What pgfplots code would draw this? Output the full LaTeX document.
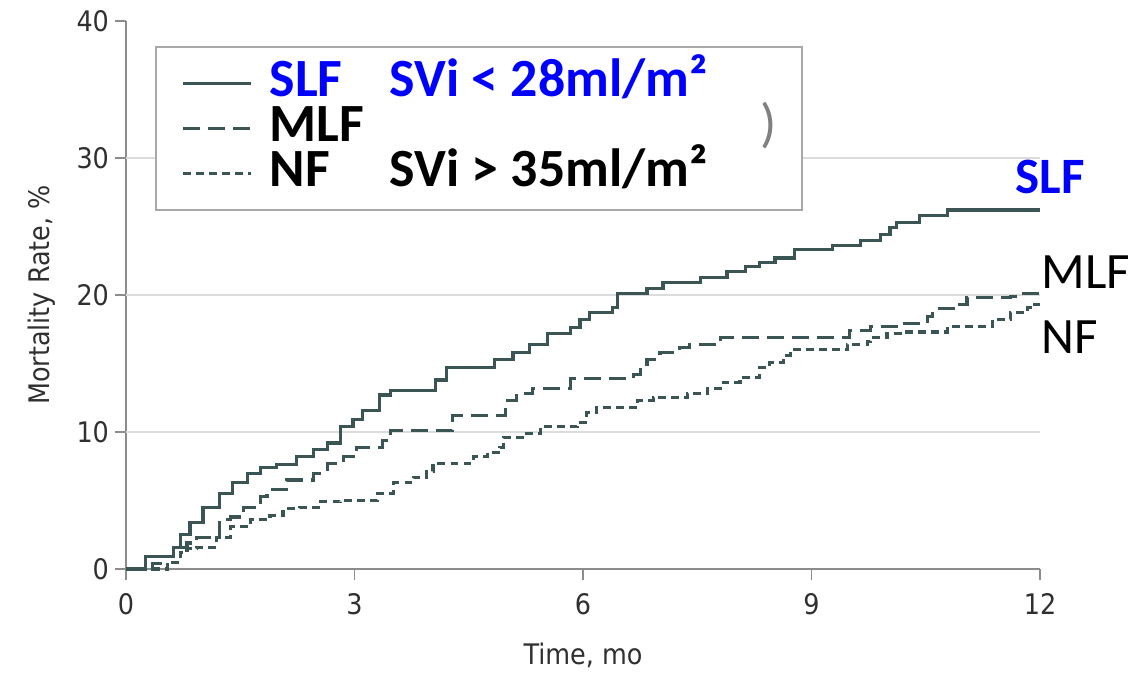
\documentclass[border=0pt]{standalone}
\usepackage{fontspec}
\setmainfont{DejaVu Sans Condensed}
\newfontfamily\carlito{Carlito}
\usepackage{pgfplots}
\pgfplotsset{compat=1.18}

\definecolor{curve}{HTML}{3A5553}
\definecolor{spine}{HTML}{8C8C8C}
\definecolor{gridc}{HTML}{DCDCDC}
\definecolor{ticktext}{HTML}{303030}
\definecolor{legframe}{HTML}{A8A8A8}

\begin{document}
\begin{tikzpicture}
\begin{axis}[
    name=ax,
    scale only axis,
    width=322.7pt, height=193.5pt,
    xmin=0, xmax=12, ymin=0, ymax=40,
    xtick={0,3,6,9,12},
    ytick={0,10,20,30,40},
    axis lines*=left,
    axis line style={spine, line width=0.6pt},
    tick align=outside,
    major tick length=4pt,
    tick style={spine, line width=0.6pt},
    extra y ticks={10,20,30},
    extra y tick labels={},
    extra y tick style={grid=major, major tick length=0pt},
    grid style={gridc, line width=0.6pt},
    /pgf/number format/assume math mode=true,
    ticklabel style={font=\fontsize{10}{12}\selectfont, text=ticktext},
    xticklabel style={yshift=-1pt},
    yticklabel style={xshift=1.5pt},
    xlabel={Time, mo},
    ylabel={Mortality Rate, \%},
    label style={font=\fontsize{10}{12}\selectfont, text=ticktext},
    xlabel style={at={(axis description cs:0.5,-0.157)}, anchor=center},
    ylabel style={at={(axis description cs:-0.092,0.5)}, anchor=center},
    clip=false,
    legend cell align=left,
    legend style={
        at={(0.0317,0.955)}, anchor=north west,
        draw=legframe, line width=0.7pt, fill=white,
        inner xsep=9pt, inner ysep=5pt,
        font=\carlito\bfseries\fontsize{19}{21}\selectfont,
        nodes={inner sep=0pt, text height=12.5pt, text depth=3.4pt},
        column sep=0pt,
    },
    legend image code/.code={\draw[#1] (0pt,0pt) -- (24pt,0pt);},
]

% SLF
\addplot[const plot, curve, line width=1.1pt] coordinates {
(0,0) (0.25,0.9) (0.62,1.6) (0.71,2.5) (0.84,3.4) (1.01,4.5) (1.23,5.5)
(1.40,6.3) (1.59,7.0) (1.76,7.4) (1.98,7.6) (2.24,8.2) (2.46,8.7) (2.64,9.2)
(2.81,10.4) (2.98,10.9) (3.11,11.6) (3.33,12.7) (3.47,13.0) (4.06,13.8)
(4.21,14.7) (4.84,15.3) (5.08,15.8) (5.30,16.4) (5.53,17.2) (5.83,17.6)
(5.96,18.2) (6.09,18.7) (6.39,19.1) (6.45,20.1) (6.84,20.5) (7.05,20.9)
(7.54,21.3) (7.89,21.7) (8.13,22.1) (8.32,22.4) (8.52,22.7) (8.78,23.3)
(9.27,23.6) (9.64,24.0) (9.90,24.4) (10.03,24.9) (10.12,25.3) (10.42,25.8)
(10.78,26.2) (12,26.2)
};
\addlegendentry{\hspace{6pt}\makebox[179pt][l]{\textcolor{blue}{\makebox[42.4pt][l]{SLF}SVi < 28ml/m²}}}

% MLF
\addplot[const plot, curve, line width=1.1pt, dash pattern=on 6pt off 2.8pt] coordinates {
(0,0) (0.35,0.4) (0.50,0.9) (0.62,1.6) (0.80,1.9) (0.93,2.3) (1.23,3.6)
(1.37,3.8) (1.54,4.5) (1.76,5.3) (1.85,5.8) (2.11,6.5) (2.46,7.0) (2.64,7.7)
(2.85,8.2) (3.03,8.9) (3.37,9.4) (3.47,10.1) (4.29,11.2) (4.98,12.3)
(5.13,12.8) (5.34,13.2) (5.83,13.9) (6.66,14.2) (6.75,14.9) (6.84,15.3)
(7.01,15.8) (7.27,16.2) (7.40,16.4) (7.80,16.9) (9.50,17.4) (9.77,17.7)
(10.16,17.9) (10.52,18.4) (10.59,19.0) (10.86,19.3) (11.04,19.8)
(11.61,19.9) (11.78,20.1) (12,20.1)
};
\addlegendentry{\hspace{6pt}\makebox[179pt][l]{\makebox[42.4pt][l]{MLF}\hfill{\mdseries\color{gray})}}}

% NF
\addplot[const plot, curve, line width=1.1pt, dash pattern=on 2.8pt off 1.8pt] coordinates {
(0,0) (0.54,0.5) (0.71,1.2) (0.80,1.5) (0.93,1.6) (1.19,2.3) (1.37,3.1)
(1.63,3.6) (1.89,3.9) (2.06,4.4) (2.28,4.5) (2.55,4.9) (2.81,5.0) (3.30,5.5)
(3.51,6.3) (3.77,6.7) (3.95,7.1) (4.03,7.7) (4.56,8.2) (4.74,8.5) (4.91,8.9)
(4.95,9.6) (5.26,9.9) (5.44,10.4) (5.92,10.7) (6.05,11.4) (6.18,11.8)
(6.71,12.3) (6.92,12.5) (7.37,12.8) (7.63,13.2) (7.84,13.6) (8.06,14.0)
(8.32,14.7) (8.45,15.1) (8.63,15.6) (8.72,16.0) (9.47,16.4) (9.73,16.6)
(9.77,16.9) (9.99,17.2) (10.20,17.3) (10.78,17.7) (11.38,18.2) (11.61,18.7)
(11.83,19.1) (11.93,19.3) (12,19.3)
};
\addlegendentry{\hspace{6pt}\makebox[179pt][l]{\makebox[42.4pt][l]{NF}SVi > 35ml/m²}}

\node[font=\carlito\bfseries\fontsize{18}{20}\selectfont, text=blue, inner sep=0pt]
    at (axis cs:12.13,28.6) {SLF};
\node[anchor=west, font=\carlito\fontsize{18}{20}\selectfont, inner sep=0pt]
    at (axis cs:12.01,21.7) {MLF};
\node[anchor=west, font=\carlito\fontsize{18}{20}\selectfont, inner sep=0pt]
    at (axis cs:12.01,16.9) {NF};
\end{axis}
\pgfresetboundingbox
\path (ax.south west) ++(-44.5pt,-36.7pt) rectangle ++(400pt,237.6pt);
\end{tikzpicture}
\end{document}
